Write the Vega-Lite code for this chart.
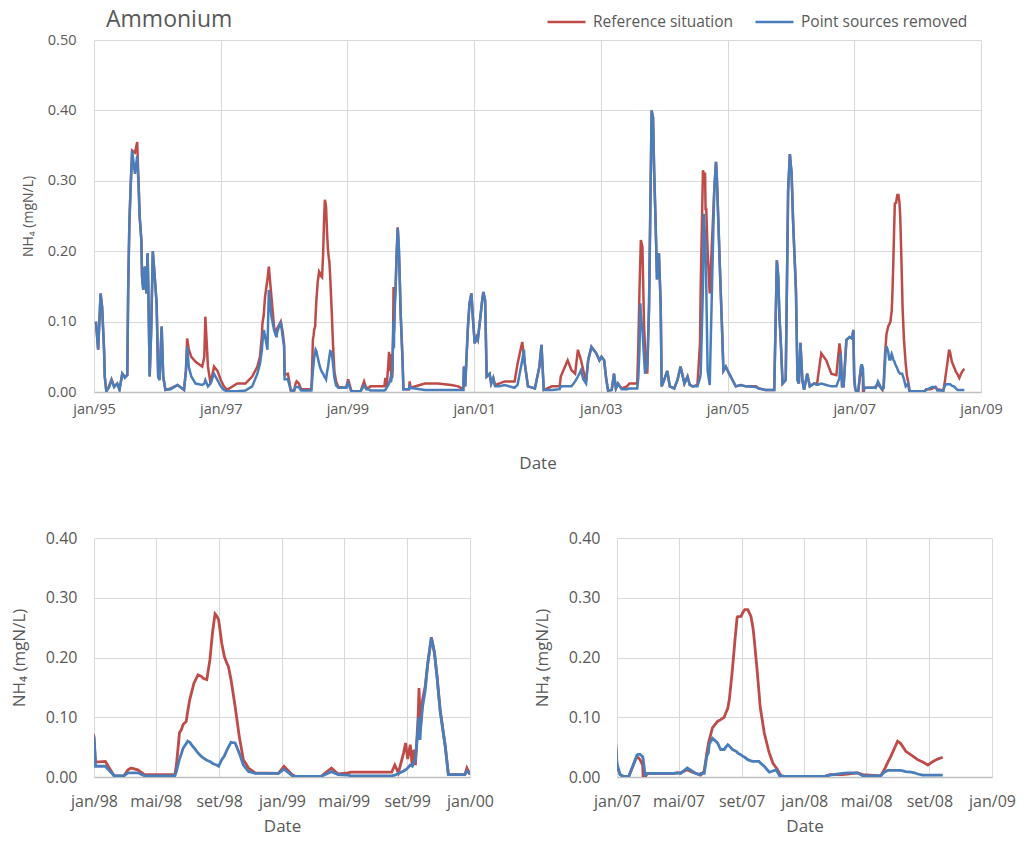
{
  "$schema": "https://vega.github.io/schema/vega-lite/v6.json",
  "background": "white",
  "padding": {"left": 9, "top": 1, "right": 5, "bottom": 5},
  "config": {
    "view": {"stroke": null},
    "font": "Open Sans",
    "axis": {"labelColor": "#595959", "titleColor": "#595959", "titleFontWeight": "normal", "gridColor": "#D9D9D9", "gridWidth": 1, "ticks": false, "domain": false, "labelFlush": false, "labelOverlap": false, "labelBound": false},
    "axisX": {"domain": true, "domainColor": "#BFBFBF", "domainWidth": 1.5}
  },
  "datasets": {
    "nh4": [
      {"d":"1995-01-12","r":0.10,"p":0.10},
      {"d":"1995-01-25","r":0.06,"p":0.06},
      {"d":"1995-02-08","r":0.14,"p":0.14},
      {"d":"1995-02-17","r":0.12,"p":0.12},
      {"d":"1995-02-28","r":0.06,"p":0.06},
      {"d":"1995-03-04","r":0.022,"p":0.022},
      {"d":"1995-03-13","r":0.001,"p":0.001},
      {"d":"1995-03-28","r":0.008,"p":0.006},
      {"d":"1995-04-12","r":0.018,"p":0.017},
      {"d":"1995-04-27","r":0.008,"p":0.007},
      {"d":"1995-05-15","r":0.012,"p":0.012},
      {"d":"1995-05-28","r":0.004,"p":0.003},
      {"d":"1995-06-13","r":0.026,"p":0.026},
      {"d":"1995-06-28","r":0.022,"p":0.02},
      {"d":"1995-07-12","r":0.024,"p":0.024},
      {"d":"1995-07-17","r":0.145,"p":0.145},
      {"d":"1995-07-24","r":0.24,"p":0.24},
      {"d":"1995-07-31","r":0.29,"p":0.29},
      {"d":"1995-08-09","r":0.343,"p":0.343},
      {"d":"1995-08-25","r":0.34,"p":0.31},
      {"d":"1995-09-07","r":0.355,"p":0.335},
      {"d":"1995-09-16","r":0.29,"p":0.286},
      {"d":"1995-09-21","r":0.25,"p":0.25},
      {"d":"1995-10-01","r":0.216,"p":0.216},
      {"d":"1995-10-05","r":0.164,"p":0.164},
      {"d":"1995-10-12","r":0.145,"p":0.145},
      {"d":"1995-10-21","r":0.178,"p":0.178},
      {"d":"1995-10-30","r":0.14,"p":0.14},
      {"d":"1995-11-06","r":0.197,"p":0.197},
      {"d":"1995-11-10","r":0.15,"p":0.15},
      {"d":"1995-11-18","r":0.022,"p":0.022},
      {"d":"1995-11-27","r":0.09,"p":0.09},
      {"d":"1995-12-06","r":0.20,"p":0.20},
      {"d":"1995-12-17","r":0.164,"p":0.164},
      {"d":"1995-12-28","r":0.126,"p":0.126},
      {"d":"1996-01-06","r":0.022,"p":0.022},
      {"d":"1996-01-14","r":0.017,"p":0.017},
      {"d":"1996-01-26","r":0.093,"p":0.093},
      {"d":"1996-02-04","r":0.022,"p":0.022},
      {"d":"1996-02-17","r":0.003,"p":0.003},
      {"d":"1996-03-18","r":0.005,"p":0.004},
      {"d":"1996-04-27","r":0.01,"p":0.01},
      {"d":"1996-06-03","r":0.003,"p":0.003},
      {"d":"1996-06-14","r":0.03,"p":0.03},
      {"d":"1996-06-21","r":0.076,"p":0.064},
      {"d":"1996-07-01","r":0.06,"p":0.035},
      {"d":"1996-07-15","r":0.05,"p":0.022},
      {"d":"1996-08-09","r":0.043,"p":0.012},
      {"d":"1996-09-16","r":0.036,"p":0.01},
      {"d":"1996-09-28","r":0.05,"p":0.012},
      {"d":"1996-10-04","r":0.107,"p":0.017},
      {"d":"1996-10-19","r":0.036,"p":0.008},
      {"d":"1996-11-03","r":0.012,"p":0.012},
      {"d":"1996-11-23","r":0.036,"p":0.026},
      {"d":"1996-12-13","r":0.03,"p":0.017},
      {"d":"1997-01-01","r":0.017,"p":0.008},
      {"d":"1997-01-19","r":0.008,"p":0.003},
      {"d":"1997-02-06","r":0.003,"p":0.001},
      {"d":"1997-04-06","r":0.012,"p":0.001},
      {"d":"1997-05-23","r":0.012,"p":0.002},
      {"d":"1997-07-01","r":0.022,"p":0.008},
      {"d":"1997-07-31","r":0.036,"p":0.026},
      {"d":"1997-08-15","r":0.05,"p":0.04},
      {"d":"1997-08-26","r":0.08,"p":0.06},
      {"d":"1997-08-29","r":0.097,"p":0.07},
      {"d":"1997-09-06","r":0.11,"p":0.088},
      {"d":"1997-09-13","r":0.135,"p":0.08},
      {"d":"1997-09-27","r":0.16,"p":0.06},
      {"d":"1997-10-05","r":0.178,"p":0.145},
      {"d":"1997-10-20","r":0.135,"p":0.107},
      {"d":"1997-11-04","r":0.093,"p":0.088},
      {"d":"1997-11-18","r":0.078,"p":0.078},
      {"d":"1997-11-22","r":0.09,"p":0.085},
      {"d":"1997-12-13","r":0.10,"p":0.10},
      {"d":"1997-12-24","r":0.085,"p":0.078},
      {"d":"1998-01-01","r":0.068,"p":0.065},
      {"d":"1998-01-04","r":0.025,"p":0.018},
      {"d":"1998-01-23","r":0.026,"p":0.018},
      {"d":"1998-02-09","r":0.002,"p":0.002},
      {"d":"1998-02-28","r":0.002,"p":0.002},
      {"d":"1998-03-08","r":0.012,"p":0.007},
      {"d":"1998-03-14","r":0.015,"p":0.007},
      {"d":"1998-03-27","r":0.012,"p":0.007},
      {"d":"1998-04-09","r":0.004,"p":0.002},
      {"d":"1998-06-07","r":0.004,"p":0.002},
      {"d":"1998-06-10","r":0.02,"p":0.01},
      {"d":"1998-06-16","r":0.074,"p":0.03},
      {"d":"1998-06-20","r":0.08,"p":0.04},
      {"d":"1998-06-23","r":0.088,"p":0.048},
      {"d":"1998-06-29","r":0.093,"p":0.056},
      {"d":"1998-07-02","r":0.11,"p":0.06},
      {"d":"1998-07-06","r":0.13,"p":0.058},
      {"d":"1998-07-12","r":0.15,"p":0.051},
      {"d":"1998-07-14","r":0.157,"p":0.049},
      {"d":"1998-07-22","r":0.171,"p":0.04},
      {"d":"1998-07-29","r":0.168,"p":0.034},
      {"d":"1998-08-01","r":0.165,"p":0.032},
      {"d":"1998-08-08","r":0.163,"p":0.028},
      {"d":"1998-08-14","r":0.196,"p":0.026},
      {"d":"1998-08-19","r":0.241,"p":0.023},
      {"d":"1998-08-24","r":0.273,"p":0.021},
      {"d":"1998-08-27","r":0.27,"p":0.02},
      {"d":"1998-08-31","r":0.263,"p":0.018},
      {"d":"1998-09-06","r":0.224,"p":0.029},
      {"d":"1998-09-11","r":0.202,"p":0.035},
      {"d":"1998-09-16","r":0.19,"p":0.045},
      {"d":"1998-09-19","r":0.185,"p":0.05},
      {"d":"1998-09-24","r":0.163,"p":0.058},
      {"d":"1998-10-02","r":0.118,"p":0.057},
      {"d":"1998-10-10","r":0.068,"p":0.04},
      {"d":"1998-10-18","r":0.029,"p":0.02},
      {"d":"1998-10-28","r":0.015,"p":0.009},
      {"d":"1998-11-10","r":0.007,"p":0.006},
      {"d":"1998-12-25","r":0.006,"p":0.006},
      {"d":"1999-01-05","r":0.018,"p":0.013},
      {"d":"1999-01-21","r":0.004,"p":0.002},
      {"d":"1999-01-27","r":0.001,"p":0.001},
      {"d":"1999-03-18","r":0.001,"p":0.001},
      {"d":"1999-04-07","r":0.015,"p":0.009},
      {"d":"1999-04-20","r":0.005,"p":0.004},
      {"d":"1999-05-09","r":0.007,"p":0.003},
      {"d":"1999-05-15","r":0.008,"p":0.002},
      {"d":"1999-08-02","r":0.008,"p":0.002},
      {"d":"1999-08-08","r":0.02,"p":0.003},
      {"d":"1999-08-15","r":0.007,"p":0.006},
      {"d":"1999-08-25","r":0.04,"p":0.01},
      {"d":"1999-08-29","r":0.057,"p":0.012},
      {"d":"1999-09-02","r":0.03,"p":0.015},
      {"d":"1999-09-07","r":0.054,"p":0.02},
      {"d":"1999-09-11","r":0.018,"p":0.018},
      {"d":"1999-09-14","r":0.046,"p":0.025},
      {"d":"1999-09-17","r":0.02,"p":0.029},
      {"d":"1999-09-22","r":0.096,"p":0.08},
      {"d":"1999-09-23","r":0.12,"p":0.10},
      {"d":"1999-09-24","r":0.149,"p":0.09},
      {"d":"1999-09-26","r":0.10,"p":0.062},
      {"d":"1999-09-27","r":0.085,"p":0.08},
      {"d":"1999-10-01","r":0.13,"p":0.118},
      {"d":"1999-10-06","r":0.152,"p":0.145},
      {"d":"1999-10-11","r":0.19,"p":0.19},
      {"d":"1999-10-18","r":0.234,"p":0.233},
      {"d":"1999-10-24","r":0.208,"p":0.208},
      {"d":"1999-10-29","r":0.168,"p":0.168},
      {"d":"1999-11-04","r":0.113,"p":0.11},
      {"d":"1999-11-14","r":0.051,"p":0.051},
      {"d":"1999-11-20","r":0.004,"p":0.004},
      {"d":"1999-12-22","r":0.004,"p":0.004},
      {"d":"1999-12-26","r":0.015,"p":0.01},
      {"d":"1999-12-31","r":0.006,"p":0.006},
      {"d":"2000-03-22","r":0.012,"p":0.003},
      {"d":"2000-06-05","r":0.012,"p":0.003},
      {"d":"2000-08-22","r":0.01,"p":0.003},
      {"d":"2000-10-01","r":0.008,"p":0.003},
      {"d":"2000-10-30","r":0.004,"p":0.003},
      {"d":"2000-11-03","r":0.036,"p":0.036},
      {"d":"2000-11-10","r":0.008,"p":0.008},
      {"d":"2000-11-26","r":0.093,"p":0.093},
      {"d":"2000-12-05","r":0.126,"p":0.126},
      {"d":"2000-12-16","r":0.14,"p":0.14},
      {"d":"2000-12-24","r":0.107,"p":0.107},
      {"d":"2001-01-04","r":0.069,"p":0.069},
      {"d":"2001-01-15","r":0.078,"p":0.078},
      {"d":"2001-01-22","r":0.074,"p":0.074},
      {"d":"2001-02-06","r":0.107,"p":0.107},
      {"d":"2001-02-16","r":0.13,"p":0.13},
      {"d":"2001-02-23","r":0.142,"p":0.142},
      {"d":"2001-03-05","r":0.13,"p":0.13},
      {"d":"2001-03-14","r":0.022,"p":0.022},
      {"d":"2001-03-31","r":0.026,"p":0.026},
      {"d":"2001-04-09","r":0.012,"p":0.012},
      {"d":"2001-04-21","r":0.02,"p":0.02},
      {"d":"2001-05-01","r":0.01,"p":0.008},
      {"d":"2001-05-26","r":0.012,"p":0.008},
      {"d":"2001-06-25","r":0.015,"p":0.01},
      {"d":"2001-08-22","r":0.015,"p":0.006},
      {"d":"2001-09-08","r":0.04,"p":0.01},
      {"d":"2001-10-05","r":0.071,"p":0.045},
      {"d":"2001-10-15","r":0.05,"p":0.06},
      {"d":"2001-10-20","r":0.04,"p":0.04},
      {"d":"2001-11-07","r":0.008,"p":0.008},
      {"d":"2001-12-17","r":0.005,"p":0.005},
      {"d":"2002-01-12","r":0.036,"p":0.036},
      {"d":"2002-01-24","r":0.067,"p":0.067},
      {"d":"2002-02-06","r":0.003,"p":0.003},
      {"d":"2002-03-26","r":0.008,"p":0.003},
      {"d":"2002-05-09","r":0.008,"p":0.004},
      {"d":"2002-05-15","r":0.022,"p":0.008},
      {"d":"2002-06-24","r":0.045,"p":0.008},
      {"d":"2002-07-16","r":0.031,"p":0.008},
      {"d":"2002-08-06","r":0.026,"p":0.015},
      {"d":"2002-08-22","r":0.06,"p":0.022},
      {"d":"2002-09-09","r":0.045,"p":0.031},
      {"d":"2002-09-22","r":0.031,"p":0.018},
      {"d":"2002-10-08","r":0.015,"p":0.012},
      {"d":"2002-10-20","r":0.045,"p":0.045},
      {"d":"2002-11-08","r":0.064,"p":0.064},
      {"d":"2002-12-06","r":0.055,"p":0.055},
      {"d":"2002-12-24","r":0.045,"p":0.045},
      {"d":"2003-01-05","r":0.05,"p":0.05},
      {"d":"2003-01-20","r":0.045,"p":0.045},
      {"d":"2003-02-02","r":0.017,"p":0.017},
      {"d":"2003-02-12","r":0.002,"p":0.002},
      {"d":"2003-03-05","r":0.003,"p":0.003},
      {"d":"2003-03-18","r":0.026,"p":0.026},
      {"d":"2003-03-29","r":0.005,"p":0.005},
      {"d":"2003-04-10","r":0.012,"p":0.012},
      {"d":"2003-05-01","r":0.005,"p":0.004},
      {"d":"2003-06-01","r":0.008,"p":0.004},
      {"d":"2003-06-15","r":0.012,"p":0.005},
      {"d":"2003-07-30","r":0.012,"p":0.005},
      {"d":"2003-08-05","r":0.064,"p":0.02},
      {"d":"2003-08-12","r":0.145,"p":0.06},
      {"d":"2003-08-17","r":0.19,"p":0.126},
      {"d":"2003-08-20","r":0.216,"p":0.11},
      {"d":"2003-08-29","r":0.206,"p":0.088},
      {"d":"2003-09-07","r":0.097,"p":0.05},
      {"d":"2003-09-13","r":0.06,"p":0.026},
      {"d":"2003-09-16","r":0.05,"p":0.03},
      {"d":"2003-09-26","r":0.026,"p":0.04},
      {"d":"2003-10-06","r":0.12,"p":0.12},
      {"d":"2003-10-21","r":0.40,"p":0.40},
      {"d":"2003-10-29","r":0.39,"p":0.39},
      {"d":"2003-11-05","r":0.31,"p":0.31},
      {"d":"2003-11-13","r":0.24,"p":0.24},
      {"d":"2003-11-21","r":0.16,"p":0.16},
      {"d":"2003-12-02","r":0.197,"p":0.197},
      {"d":"2003-12-12","r":0.126,"p":0.126},
      {"d":"2003-12-18","r":0.008,"p":0.008},
      {"d":"2004-01-01","r":0.017,"p":0.017},
      {"d":"2004-01-19","r":0.03,"p":0.03},
      {"d":"2004-02-03","r":0.008,"p":0.008},
      {"d":"2004-02-28","r":0.005,"p":0.005},
      {"d":"2004-03-18","r":0.017,"p":0.017},
      {"d":"2004-04-05","r":0.036,"p":0.036},
      {"d":"2004-04-27","r":0.012,"p":0.012},
      {"d":"2004-05-15","r":0.022,"p":0.022},
      {"d":"2004-05-28","r":0.01,"p":0.01},
      {"d":"2004-06-13","r":0.008,"p":0.008},
      {"d":"2004-07-11","r":0.01,"p":0.008},
      {"d":"2004-07-26","r":0.069,"p":0.02},
      {"d":"2004-07-30","r":0.15,"p":0.026},
      {"d":"2004-08-12","r":0.315,"p":0.15},
      {"d":"2004-08-17","r":0.31,"p":0.253},
      {"d":"2004-08-24","r":0.31,"p":0.22},
      {"d":"2004-08-27","r":0.26,"p":0.20},
      {"d":"2004-08-31","r":0.26,"p":0.15},
      {"d":"2004-09-08","r":0.20,"p":0.03},
      {"d":"2004-09-20","r":0.14,"p":0.01},
      {"d":"2004-10-16","r":0.286,"p":0.286},
      {"d":"2004-10-26","r":0.327,"p":0.327},
      {"d":"2004-10-31","r":0.305,"p":0.305},
      {"d":"2004-11-09","r":0.24,"p":0.24},
      {"d":"2004-11-17","r":0.18,"p":0.18},
      {"d":"2004-11-29","r":0.097,"p":0.097},
      {"d":"2004-12-08","r":0.03,"p":0.03},
      {"d":"2004-12-22","r":0.036,"p":0.036},
      {"d":"2005-01-10","r":0.026,"p":0.026},
      {"d":"2005-01-29","r":0.017,"p":0.017},
      {"d":"2005-02-17","r":0.008,"p":0.008},
      {"d":"2005-03-18","r":0.01,"p":0.01},
      {"d":"2005-04-16","r":0.008,"p":0.008},
      {"d":"2005-06-13","r":0.008,"p":0.007},
      {"d":"2005-07-01","r":0.005,"p":0.005},
      {"d":"2005-08-07","r":0.003,"p":0.003},
      {"d":"2005-09-27","r":0.003,"p":0.003},
      {"d":"2005-10-12","r":0.187,"p":0.187},
      {"d":"2005-10-20","r":0.164,"p":0.164},
      {"d":"2005-10-27","r":0.107,"p":0.107},
      {"d":"2005-11-04","r":0.07,"p":0.07},
      {"d":"2005-11-14","r":0.012,"p":0.012},
      {"d":"2005-12-02","r":0.017,"p":0.017},
      {"d":"2005-12-16","r":0.286,"p":0.286},
      {"d":"2005-12-26","r":0.338,"p":0.338},
      {"d":"2006-01-05","r":0.31,"p":0.31},
      {"d":"2006-01-14","r":0.24,"p":0.24},
      {"d":"2006-01-30","r":0.145,"p":0.145},
      {"d":"2006-02-08","r":0.017,"p":0.017},
      {"d":"2006-02-16","r":0.012,"p":0.012},
      {"d":"2006-02-25","r":0.07,"p":0.07},
      {"d":"2006-03-08","r":0.017,"p":0.017},
      {"d":"2006-03-18","r":0.003,"p":0.003},
      {"d":"2006-04-05","r":0.026,"p":0.026},
      {"d":"2006-04-20","r":0.008,"p":0.008},
      {"d":"2006-05-15","r":0.012,"p":0.012},
      {"d":"2006-06-01","r":0.012,"p":0.01},
      {"d":"2006-06-25","r":0.055,"p":0.012},
      {"d":"2006-07-24","r":0.045,"p":0.01},
      {"d":"2006-08-22","r":0.026,"p":0.008},
      {"d":"2006-09-20","r":0.024,"p":0.008},
      {"d":"2006-10-08","r":0.069,"p":0.02},
      {"d":"2006-10-15","r":0.055,"p":0.055},
      {"d":"2006-10-23","r":0.008,"p":0.008},
      {"d":"2006-11-01","r":0.008,"p":0.008},
      {"d":"2006-11-17","r":0.074,"p":0.074},
      {"d":"2006-12-06","r":0.078,"p":0.078},
      {"d":"2006-12-20","r":0.076,"p":0.076},
      {"d":"2006-12-27","r":0.088,"p":0.088},
      {"d":"2007-01-01","r":0.018,"p":0.023},
      {"d":"2007-01-07","r":0.004,"p":0.004},
      {"d":"2007-01-14","r":0.001,"p":0.001},
      {"d":"2007-01-24","r":0.001,"p":0.001},
      {"d":"2007-02-06","r":0.029,"p":0.03},
      {"d":"2007-02-09","r":0.033,"p":0.037},
      {"d":"2007-02-11","r":0.033,"p":0.038},
      {"d":"2007-02-15","r":0.029,"p":0.038},
      {"d":"2007-02-20","r":0.02,"p":0.034},
      {"d":"2007-02-21","r":0.0,"p":0.03},
      {"d":"2007-02-25","r":0.0,"p":0.002},
      {"d":"2007-03-01","r":0.006,"p":0.006},
      {"d":"2007-04-22","r":0.006,"p":0.006},
      {"d":"2007-04-29","r":0.007,"p":0.007},
      {"d":"2007-05-05","r":0.007,"p":0.006},
      {"d":"2007-05-18","r":0.012,"p":0.015},
      {"d":"2007-05-28","r":0.008,"p":0.01},
      {"d":"2007-06-01","r":0.007,"p":0.007},
      {"d":"2007-06-10","r":0.004,"p":0.004},
      {"d":"2007-06-13","r":0.003,"p":0.006},
      {"d":"2007-06-20","r":0.01,"p":0.006},
      {"d":"2007-06-25","r":0.04,"p":0.035},
      {"d":"2007-06-28","r":0.055,"p":0.04},
      {"d":"2007-06-30","r":0.062,"p":0.055},
      {"d":"2007-07-06","r":0.082,"p":0.065},
      {"d":"2007-07-16","r":0.093,"p":0.057},
      {"d":"2007-07-22","r":0.096,"p":0.046},
      {"d":"2007-07-29","r":0.10,"p":0.046},
      {"d":"2007-08-01","r":0.107,"p":0.05},
      {"d":"2007-08-05","r":0.115,"p":0.054},
      {"d":"2007-08-08","r":0.13,"p":0.052},
      {"d":"2007-08-14","r":0.18,"p":0.046},
      {"d":"2007-08-19","r":0.23,"p":0.044},
      {"d":"2007-08-23","r":0.266,"p":0.042},
      {"d":"2007-08-24","r":0.268,"p":0.04},
      {"d":"2007-08-31","r":0.269,"p":0.037},
      {"d":"2007-09-03","r":0.275,"p":0.035},
      {"d":"2007-09-07","r":0.28,"p":0.033},
      {"d":"2007-09-13","r":0.28,"p":0.029},
      {"d":"2007-09-19","r":0.269,"p":0.027},
      {"d":"2007-09-23","r":0.25,"p":0.026},
      {"d":"2007-09-25","r":0.235,"p":0.026},
      {"d":"2007-10-01","r":0.18,"p":0.026},
      {"d":"2007-10-05","r":0.14,"p":0.026},
      {"d":"2007-10-07","r":0.118,"p":0.024},
      {"d":"2007-10-15","r":0.074,"p":0.018},
      {"d":"2007-10-23","r":0.046,"p":0.01},
      {"d":"2007-10-25","r":0.04,"p":0.008},
      {"d":"2007-11-01","r":0.023,"p":0.01},
      {"d":"2007-11-07","r":0.016,"p":0.012},
      {"d":"2007-11-10","r":0.012,"p":0.008},
      {"d":"2007-11-14","r":0.006,"p":0.002},
      {"d":"2007-11-17","r":0.002,"p":0.002},
      {"d":"2007-11-23","r":0.001,"p":0.001},
      {"d":"2008-02-10","r":0.001,"p":0.001},
      {"d":"2008-02-20","r":0.004,"p":0.003},
      {"d":"2008-03-15","r":0.004,"p":0.006},
      {"d":"2008-03-25","r":0.005,"p":0.007},
      {"d":"2008-04-14","r":0.007,"p":0.007},
      {"d":"2008-04-24","r":0.004,"p":0.002},
      {"d":"2008-05-29","r":0.002,"p":0.002},
      {"d":"2008-06-05","r":0.012,"p":0.008},
      {"d":"2008-06-12","r":0.025,"p":0.011},
      {"d":"2008-06-18","r":0.035,"p":0.011},
      {"d":"2008-07-01","r":0.06,"p":0.011},
      {"d":"2008-07-07","r":0.056,"p":0.011},
      {"d":"2008-07-17","r":0.043,"p":0.009},
      {"d":"2008-07-27","r":0.037,"p":0.008},
      {"d":"2008-08-03","r":0.033,"p":0.007},
      {"d":"2008-08-09","r":0.029,"p":0.005},
      {"d":"2008-08-19","r":0.025,"p":0.003},
      {"d":"2008-08-29","r":0.02,"p":0.003},
      {"d":"2008-09-08","r":0.026,"p":0.003},
      {"d":"2008-09-17","r":0.03,"p":0.003},
      {"d":"2008-09-27","r":0.033,"p":0.003}
    ]
  },
  "columns": 1,
  "align": "none",
  "spacing": 58,
  "resolve": {"scale": {"color": "independent"}, "legend": {"color": "independent"}},
  "concat": [
    {
      "width": 887,
      "height": 352,
      "title": {"text": "Ammonium", "anchor": "start", "frame": "group", "fontSize": 23, "fontWeight": "normal", "color": "#595959", "dx": 12, "offset": -30},
      "data": {"name": "nh4"},
      "transform": [{"fold": ["r", "p"], "as": ["s", "v"]}],
      "mark": {"type": "line", "strokeWidth": 2.5, "clip": true},
      "encoding": {
        "x": {
          "field": "d", "type": "temporal",
          "scale": {"type": "utc", "domain": [{"year": 1995, "month": 1, "date": 1, "utc": true}, {"year": 2009, "month": 1, "date": 1, "utc": true}]},
          "axis": {
            "values": [
              {"year": 1995, "month": 1, "date": 1, "utc": true},
              {"year": 1997, "month": 1, "date": 1, "utc": true},
              {"year": 1999, "month": 1, "date": 1, "utc": true},
              {"year": 2001, "month": 1, "date": 1, "utc": true},
              {"year": 2003, "month": 1, "date": 1, "utc": true},
              {"year": 2005, "month": 1, "date": 1, "utc": true},
              {"year": 2007, "month": 1, "date": 1, "utc": true},
              {"year": 2009, "month": 1, "date": 1, "utc": true}
            ],
            "labelExpr": "'jan/' + utcFormat(datum.value, '%y')",
            "labelFontSize": 14.5, "labelPadding": 10,
            "title": "Date", "titleFontSize": 17, "titlePadding": 40
          }
        },
        "y": {
          "field": "v", "type": "quantitative",
          "scale": {"domain": [0, 0.5]},
          "axis": {"values": [0, 0.1, 0.2, 0.3, 0.4, 0.5], "format": ".2f", "labelFontSize": 14.5, "labelPadding": 18,
                   "title": ["", "NH₄ (mgN/L)"], "titleLineHeight": 11.5, "titleFontSize": 14, "titlePadding": 12}
        },
        "color": {
          "field": "s", "type": "nominal",
          "scale": {"domain": ["r", "p"], "range": ["#BE4B48", "#4A7EBB"]},
          "legend": {"orient": "none", "legendX": 452, "legendY": -38.5, "direction": "horizontal", "title": null,
                     "symbolType": "stroke", "symbolSize": 1444, "symbolStrokeWidth": 2.5, "labelFontSize": 15.5,
                     "labelColor": "#595959", "labelOffset": 6, "columnPadding": 16, "padding": 0, "labelLimit": 400,
                     "labelExpr": "datum.label == 'r' ? 'Reference situation' : 'Point sources removed'"}
        }
      }
    },
    {
      "spacing": 39,
      "hconcat": [
        {
          "width": 376,
          "height": 239,
          "data": {"name": "nh4"},
          "transform": [{"fold": ["r", "p"], "as": ["s", "v"]}],
          "mark": {"type": "line", "strokeWidth": 2.8, "clip": true},
          "encoding": {
            "x": {
              "field": "d", "type": "temporal",
              "scale": {"type": "utc", "domain": [{"year": 1998, "month": 1, "date": 1, "utc": true}, {"year": 2000, "month": 1, "date": 1, "utc": true}]},
              "axis": {
                "values": [
                  {"year": 1998, "month": 1, "date": 1, "utc": true},
                  {"year": 1998, "month": 5, "date": 1, "utc": true},
                  {"year": 1998, "month": 9, "date": 1, "utc": true},
                  {"year": 1999, "month": 1, "date": 1, "utc": true},
                  {"year": 1999, "month": 5, "date": 1, "utc": true},
                  {"year": 1999, "month": 9, "date": 1, "utc": true},
                  {"year": 2000, "month": 1, "date": 1, "utc": true}
                ],
                "labelExpr": "['jan','fev','mar','abr','mai','jun','jul','ago','set','out','nov','dez'][utcmonth(datum.value)] + '/' + utcFormat(datum.value, '%y')",
                "labelFontSize": 16, "labelPadding": 16,
                "title": "Date", "titleFontSize": 17, "titlePadding": 9
              }
            },
            "y": {
              "field": "v", "type": "quantitative",
              "scale": {"domain": [0, 0.4]},
              "axis": {"values": [0, 0.1, 0.2, 0.3, 0.4], "format": ".2f", "labelFontSize": 16, "labelPadding": 17,
                       "title": "NH₄ (mgN/L)", "titleFontSize": 17, "titlePadding": 17}
            },
            "color": {"field": "s", "type": "nominal", "scale": {"domain": ["r", "p"], "range": ["#BE4B48", "#4A7EBB"]}, "legend": null}
          }
        },
        {
          "width": 375,
          "height": 239,
          "data": {"name": "nh4"},
          "transform": [{"fold": ["r", "p"], "as": ["s", "v"]}],
          "mark": {"type": "line", "strokeWidth": 2.8, "clip": true},
          "encoding": {
            "x": {
              "field": "d", "type": "temporal",
              "scale": {"type": "utc", "domain": [{"year": 2007, "month": 1, "date": 1, "utc": true}, {"year": 2009, "month": 1, "date": 1, "utc": true}]},
              "axis": {
                "values": [
                  {"year": 2007, "month": 1, "date": 1, "utc": true},
                  {"year": 2007, "month": 5, "date": 1, "utc": true},
                  {"year": 2007, "month": 9, "date": 1, "utc": true},
                  {"year": 2008, "month": 1, "date": 1, "utc": true},
                  {"year": 2008, "month": 5, "date": 1, "utc": true},
                  {"year": 2008, "month": 9, "date": 1, "utc": true},
                  {"year": 2009, "month": 1, "date": 1, "utc": true}
                ],
                "labelExpr": "['jan','fev','mar','abr','mai','jun','jul','ago','set','out','nov','dez'][utcmonth(datum.value)] + '/' + utcFormat(datum.value, '%y')",
                "labelFontSize": 16, "labelPadding": 16,
                "title": "Date", "titleFontSize": 17, "titlePadding": 9
              }
            },
            "y": {
              "field": "v", "type": "quantitative",
              "scale": {"domain": [0, 0.4]},
              "axis": {"values": [0, 0.1, 0.2, 0.3, 0.4], "format": ".2f", "labelFontSize": 16, "labelPadding": 17,
                       "title": "NH₄ (mgN/L)", "titleFontSize": 17, "titlePadding": 17}
            },
            "color": {"field": "s", "type": "nominal", "scale": {"domain": ["r", "p"], "range": ["#BE4B48", "#4A7EBB"]}, "legend": null}
          }
        }
      ]
    }
  ]
}
